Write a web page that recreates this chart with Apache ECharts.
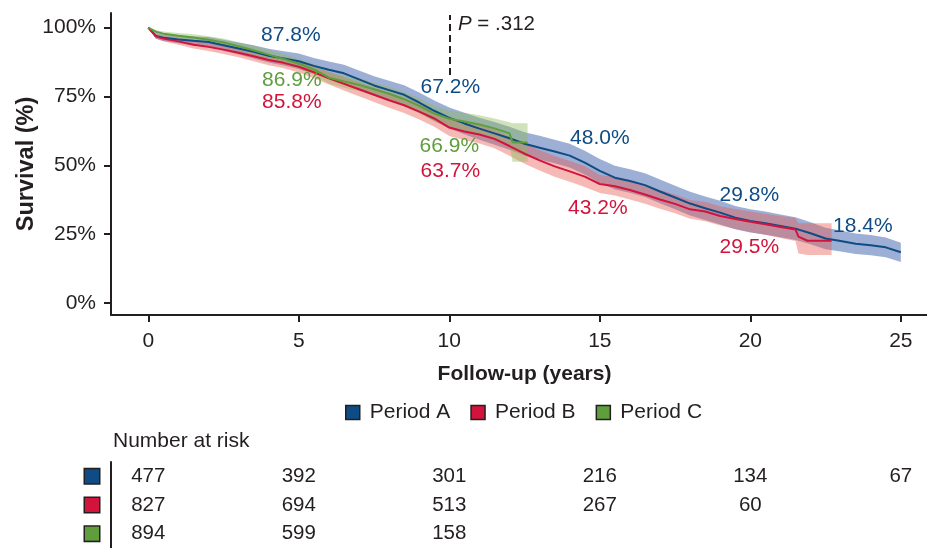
<!DOCTYPE html>
<html><head><meta charset="utf-8">
<script src="https://cdn.jsdelivr.net/npm/echarts@6/dist/echarts.min.js"></script>
<style>html,body{margin:0;padding:0;background:#fff}#c{width:927px;height:548px}</style>
</head><body><div id="c"></div>
<script>
// ---------- data ----------
const periods = ['Period A', 'Period B', 'Period C'];

const timesA = [0,0.25,0.5,1,1.5,2,2.5,3,3.5,4,4.5,5,5.5,6,6.5,7,7.5,8,8.5,9,9.5,10,10.5,11,11.5,12,12.5,13,13.5,14,14.5,15,15.5,16,16.5,17,17.5,18,18.5,19,19.5,20,20.5,21,21.5,22,22.5,23,23.5,24,24.5,25];
const survA  = [100,97.0,96.3,95.7,95.2,94.8,93.6,92.4,91.2,89.8,88.8,87.8,86.1,84.7,83.4,81.2,79.0,77.3,75.6,72.8,69.8,67.2,65.2,63.3,61.6,59.8,57.8,56.4,55.0,53.5,51.0,48.0,45.5,44.3,42.8,40.5,38.3,36.1,34.4,32.8,31.0,29.8,29.0,28.0,27.0,25.3,23.4,22.5,21.5,21.0,20.2,18.4];
const lowA   = [100,96.0,95.1,94.3,93.6,93.0,91.6,90.2,88.8,87.3,86.2,85.0,83.2,81.7,80.3,78.0,75.7,73.9,72.1,69.2,66.1,63.4,61.3,59.3,57.5,55.6,53.6,52.1,50.7,49.2,46.7,43.7,41.2,40.0,38.5,36.2,34.0,31.8,30.1,28.5,26.8,25.6,24.8,23.9,22.9,21.3,19.5,18.7,17.8,17.3,16.6,14.9];
const highA  = [100,98.0,97.5,97.1,96.8,96.6,95.6,94.6,93.6,92.3,91.4,90.6,89.0,87.7,86.5,84.4,82.3,80.7,79.1,76.4,73.5,71.0,69.1,67.3,65.7,64.0,62.0,60.7,59.3,57.8,55.3,52.3,49.8,48.6,47.1,44.8,42.6,40.4,38.7,37.1,35.2,34.0,33.2,32.1,31.1,29.3,27.3,26.3,25.2,24.7,23.8,21.9];

const timesB = [0,0.25,0.5,1,1.5,2,2.5,3,3.5,4,4.5,5,5.5,6,6.5,7,7.5,8,8.5,9,9.5,10,10.5,11,11.5,12,12.5,13,13.5,14,14.5,15,15.5,16,16.5,17,17.5,18,18.5,19,19.5,20,20.5,21,21.5,21.6,21.9,22.7];
const survB  = [100,96.8,96.0,95.0,93.8,93.0,92.0,90.9,89.6,88.2,87.2,85.8,83.8,81.6,79.6,77.6,75.6,73.6,71.8,69.5,67.0,63.7,62.3,61.2,59.6,57.0,54.2,51.8,49.6,47.8,45.9,43.2,42.4,41.0,39.4,37.6,36.0,34.0,33.2,31.6,30.5,29.5,28.6,27.6,26.7,24.1,22.6,22.6];
const lowB   = [100,95.9,95.0,93.8,92.4,91.5,90.4,89.2,87.8,86.3,85.2,83.7,81.6,79.3,77.2,75.1,73.0,70.9,69.0,66.6,64.0,60.6,59.1,57.9,56.2,53.5,50.6,48.1,45.8,44.0,42.1,39.9,39.0,37.6,36.0,34.2,32.6,30.6,29.7,28.1,26.9,25.8,24.8,23.6,22.5,18.0,17.4,17.4];
const highB  = [100,97.7,97.0,96.2,95.2,94.5,93.6,92.6,91.4,90.1,89.2,87.9,86.0,83.9,82.0,80.1,78.2,76.3,74.6,72.4,70.0,66.8,65.5,64.5,63.0,60.5,57.8,55.5,53.4,51.6,49.7,46.5,45.8,44.4,42.8,41.0,39.4,37.4,36.7,35.1,34.1,33.2,32.4,31.6,30.9,29.0,29.0,29.0];

const timesC = [0,0.25,0.5,1,1.5,2,2.5,3,3.5,4,4.5,5,5.5,6,6.5,7,7.5,8,8.5,9,9.5,10,10.5,11,11.5,12,12.1,12.6];
const survC  = [100,98.5,97.8,97.0,96.4,95.6,94.6,93.2,91.8,90.2,88.6,86.9,84.8,81.8,80.4,79.2,77.6,76.0,74.0,71.6,68.8,66.9,65.9,64.8,63.4,61.6,58.3,58.3];
const lowC   = [100,97.9,97.0,96.0,95.2,94.3,93.2,91.7,90.2,88.5,86.8,85.0,82.8,79.7,78.2,76.9,75.2,73.5,71.4,68.9,66.0,63.9,62.7,61.4,59.8,57.6,51.3,51.3];
const highC  = [100,99.1,98.6,98.0,97.6,96.9,96.0,94.7,93.4,91.9,90.4,88.8,86.8,83.9,82.6,81.5,80.0,78.5,76.6,74.3,71.6,69.9,69.1,68.2,67.0,65.6,65.3,65.3];

const keyTimesA = [5,10,15,20,25];
const keyA = [87.8,67.2,48.0,29.8,18.4];
const keyTimesB = [5,10,15,20];
const keyB = [85.8,63.7,43.2,29.5];
const keyTimesC = [5,10];
const keyC = [86.9,66.9];

const riskTimes = [0,5,10,15,20,25];
const riskA = [477,392,301,216,134,67];
const riskB = [827,694,513,267,60];
const riskC = [894,599,158];

const xTicks = [0,5,10,15,20,25];
const yTicks = [0,25,50,75,100];
const pTime = 10;
const pText = '.312';

// ---------- styles ----------
const FONT = '"Liberation Sans", Arial, Helvetica, sans-serif';
const INK = '#231f20';
const lineColors = ['#0f4c85', '#d2143c', '#5e9e3d'];
const bandColors = ['rgba(60,95,170,0.5)', 'rgba(230,90,80,0.42)', 'rgba(140,185,90,0.42)'];
const labelOffsets = [
  [[-8,-26],[1,-31],[0,-33],[-1,-26],[-38,-26]],
  [[-7,36],[1,44],[-2,24],[-1,25]],
  [[-7,17],[0,27]]
];

const groups = [
  {t: timesA, s: survA, lo: lowA, hi: highA, kt: keyTimesA, kv: keyA, risk: riskA},
  {t: timesB, s: survB, lo: lowB, hi: highB, kt: keyTimesB, kv: keyB, risk: riskB},
  {t: timesC, s: survC, lo: lowC, hi: highC, kt: keyTimesC, kv: keyC, risk: riskC}
];

const series = [];
groups.forEach((g, i) => {
  series.push({
    type: 'custom', name: 'band' + i, silent: true,
    data: [[g.t[0], g.s[0]]],
    renderItem: (params, api) => {
      const pts = [];
      for (let k = 0; k < g.t.length; k++) pts.push(api.coord([g.t[k], g.hi[k]]));
      for (let k = g.t.length - 1; k >= 0; k--) pts.push(api.coord([g.t[k], g.lo[k]]));
      return {type: 'polygon', shape: {points: pts}, style: {fill: bandColors[i], stroke: null}};
    }
  });
  const ln = {
    type: 'line', name: periods[i],
    data: g.t.map((t, k) => [t, g.s[k]]), symbol: 'none', silent: true,
    itemStyle: {color: lineColors[i]},
    lineStyle: {color: lineColors[i], width: 2}
  };
  if (i === 0) {
    ln.markLine = {
      silent: true, symbol: 'none', label: {show: false},
      lineStyle: {color: INK, width: 2, type: [7, 4]},
      data: [[{coord: [pTime, 82.8]}, {coord: [pTime, 104.6]}]]
    };
  }
  series.push(ln);
});
groups.forEach((g, i) => {
  series.push({
    type: 'scatter', name: 'key' + i, silent: true, symbolSize: 0,
    itemStyle: {color: lineColors[i]},
    data: g.kt.map((t, k) => ({
      value: [t, g.kv[k]],
      label: {offset: labelOffsets[i][k]}
    })),
    label: {show: true, position: 'inside', fontSize: 21, fontFamily: FONT,
      color: lineColors[i], textBorderWidth: 0, opacity: 1,
      formatter: p => p.value[1].toFixed(1) + '%'},
    z: 5
  });
  series.push({
    type: 'scatter', name: 'risk' + i, silent: true, symbolSize: 0,
    xAxisIndex: 1, yAxisIndex: 1,
    itemStyle: {color: INK},
    data: g.risk.map((n, k) => [riskTimes[k], i, n]),
    label: {show: true, position: 'inside', fontSize: 20.5, fontFamily: FONT,
      color: INK, textBorderWidth: 0, opacity: 1, formatter: p => String(p.data[2])}
  });
});

const rich = {};
['0','1','2'].forEach((k, i) => {
  rich['s' + k] = {width: 14, height: 14, backgroundColor: lineColors[i],
    borderColor: INK, borderWidth: 1.5};
});

const option = {
  backgroundColor: '#fff',
  animation: false,
  textStyle: {fontFamily: FONT, color: INK},
  grid: [
    {left: 111, right: 0, top: 13, bottom: 233},
    {left: 111, right: 0, top: 462, height: 88.5}
  ],
  xAxis: [{
    type: 'value', min: -1.239, max: 25.87, gridIndex: 0,
    axisLine: {show: true, onZero: false, lineStyle: {color: INK, width: 2}},
    axisTick: {show: true, customValues: xTicks, length: 7, lineStyle: {color: INK, width: 2}},
    axisLabel: {customValues: xTicks, fontSize: 21, color: INK, fontFamily: FONT, margin: 16},
    splitLine: {show: false},
    name: 'Follow-up (years)', nameLocation: 'middle', nameGap: 49, nameMoveOverlap: false,
    nameTextStyle: {fontWeight: 'bold', fontSize: 21, color: INK, fontFamily: FONT, padding: [0, 0, 0, 11]}
  }, {
    type: 'value', min: -1.239, max: 25.87, gridIndex: 1, show: false
  }],
  yAxis: [{
    type: 'value', min: -4.36, max: 105.3, gridIndex: 0,
    axisLine: {show: true, onZero: false, lineStyle: {color: INK, width: 2}},
    axisTick: {show: true, customValues: yTicks, length: 7, lineStyle: {color: INK, width: 2}},
    axisLabel: {customValues: yTicks, fontSize: 21, color: INK, fontFamily: FONT, margin: 15,
      formatter: v => v + '%'},
    splitLine: {show: false},
    name: 'Survival (%)', nameLocation: 'middle', nameGap: 72, nameMoveOverlap: false,
    nameTextStyle: {fontWeight: 'bold', fontSize: 23.5, color: INK, fontFamily: FONT}
  }, {
    type: 'category', gridIndex: 1, inverse: true, data: ['0', '1', '2'],
    axisLine: {show: true, onZero: false, lineStyle: {color: INK, width: 2}},
    axisTick: {show: false},
    axisLabel: {margin: 12, formatter: v => '{s' + v + '|}', rich: rich}
  }],
  legend: {
    left: 340, top: 397, icon: 'rect', itemWidth: 14, itemHeight: 14, itemGap: 20,
    textStyle: {fontSize: 21, color: INK, fontFamily: FONT, padding: [0, 0, 0, 5]},
    selectedMode: false,
    data: periods.map((p, i) => ({name: p, itemStyle: {color: lineColors[i], borderColor: INK, borderWidth: 1.5}}))
  },
  graphic: [
    {type: 'text', left: 113, top: 431, style: {text: 'Number at risk', fontSize: 21, fontFamily: FONT, fill: INK}},
    {type: 'text', left: 458, top: 14, style: {
      text: '{i|P} = ' + pText, fontSize: 20.5, fontFamily: FONT, fill: INK,
      rich: {i: {fontStyle: 'italic', fontSize: 20.5, fontFamily: FONT, fill: INK}}
    }}
  ],
  series: series
};

const chart = echarts.init(document.getElementById('c'), null, {renderer: 'canvas'});
chart.setOption(option);
</script>
</body></html>
